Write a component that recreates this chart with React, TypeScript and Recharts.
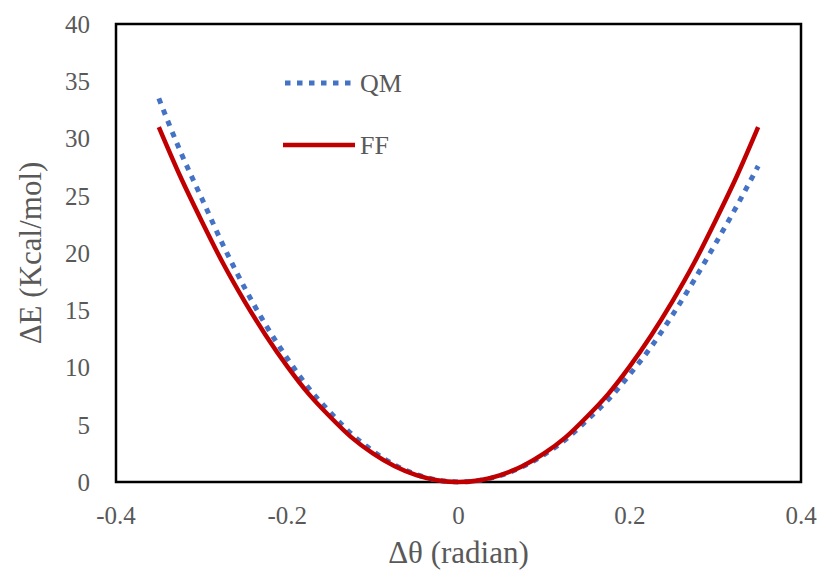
import React from 'react';
import {
  LineChart,
  Line,
  XAxis,
  YAxis,
  ReferenceArea,
} from 'recharts';

// bend angle offsets (radian)
const theta = [
  -0.35, -0.325, -0.3, -0.275, -0.25, -0.225, -0.2, -0.175, -0.15, -0.125, -0.1, -0.075, -0.05, -0.025,
  0, 0.025, 0.05, 0.075, 0.1, 0.125, 0.15, 0.175, 0.2, 0.225, 0.25, 0.275, 0.3, 0.325, 0.35,
];

// quantum mechanics scan (kcal/mol)
const qmEnergy = [
  33.5, 28.9, 24.8, 20.7, 17.0, 13.7, 10.8, 8.2, 6.1, 4.2, 2.7, 1.5, 0.68, 0.17,
  0, 0.15, 0.6, 1.35, 2.4, 3.7, 5.4, 7.2, 9.4, 11.8, 14.6, 17.6, 20.8, 24.1, 27.6,
];

// fitted force field (kcal/mol)
const ffEnergy = [
  31.0, 26.7, 22.8, 19.1, 15.8, 12.8, 10.1, 7.7, 5.7, 3.9, 2.5, 1.4, 0.63, 0.16,
  0, 0.16, 0.63, 1.4, 2.5, 3.9, 5.7, 7.7, 10.1, 12.8, 15.8, 19.1, 22.8, 26.7, 31.0,
];

const xTicks = [-0.4, -0.2, 0, 0.2, 0.4];
const yTicks = [0, 5, 10, 15, 20, 25, 30, 35, 40];

const rows = theta.map((t, i) => ({ theta: t, qm: qmEnergy[i], ff: ffEnergy[i] }));

const FONT = '"Liberation Serif", "Times New Roman", serif';
const TEXT = '#595959';
const QM_COLOR = '#4472C4';
const FF_COLOR = '#C00000';

// legend sits inside the plot box, top-left of centre
const LegendBox = () => (
  <svg
    width={140}
    height={100}
    style={{ position: 'absolute', left: 283, top: 65, display: 'block' }}
  >
    <line x1={2} y1={18} x2={70} y2={18} stroke={QM_COLOR} strokeWidth={5} strokeDasharray="5.5 6.5" />
    <text x={77} y={18} dy="0.35em" fontFamily={FONT} fontSize={26} fill={TEXT}>QM</text>
    <line x1={0} y1={80} x2={72} y2={80} stroke={FF_COLOR} strokeWidth={4.5} />
    <text x={77} y={80} dy="0.35em" fontFamily={FONT} fontSize={26} fill={TEXT}>FF</text>
  </svg>
);

export default function App() {
  return (
    <div style={{ position: 'absolute', left: 0, top: 0, width: 824, height: 573, background: '#fff' }}>
      <LineChart
        width={824}
        height={573}
        data={rows}
        margin={{ top: 24, right: 23, left: 0, bottom: 0 }}
      >
        <XAxis
          dataKey="theta"
          type="number"
          domain={[-0.4, 0.4]}
          ticks={xTicks}
          axisLine={false}
          tickLine={false}
          tickSize={0}
          tickMargin={24}
          height={91}
          tick={{ fill: TEXT, fontSize: 25, fontFamily: FONT }}
          label={{
            value: 'Δθ (radian)',
            position: 'insideBottom',
            offset: 10,
            fill: TEXT,
            fontSize: 31,
            fontFamily: FONT,
          }}
        />
        <YAxis
          type="number"
          domain={[0, 40]}
          ticks={yTicks}
          axisLine={false}
          tickLine={false}
          tickSize={0}
          tickMargin={26}
          width={116}
          tick={{ fill: TEXT, fontSize: 25, fontFamily: FONT }}
          label={{
            value: 'ΔE (Kcal/mol)',
            angle: -90,
            position: 'insideLeft',
            offset: 30,
            fill: TEXT,
            fontSize: 31,
            fontFamily: FONT,
            style: { textAnchor: 'middle' },
          }}
        />
        <ReferenceArea
          x1={-0.4}
          x2={0.4}
          y1={0}
          y2={40}
          fill="none"
          stroke="#000"
          strokeWidth={2.5}
          fillOpacity={0}
        />
        <Line
          dataKey="qm"
          type="monotone"
          stroke={QM_COLOR}
          strokeWidth={5}
          strokeDasharray="5.5 6.5"
          dot={false}
          isAnimationActive={false}
        />
        <Line
          dataKey="ff"
          type="monotone"
          stroke={FF_COLOR}
          strokeWidth={4.5}
          dot={false}
          isAnimationActive={false}
        />
      </LineChart>
      <LegendBox />
    </div>
  );
}
